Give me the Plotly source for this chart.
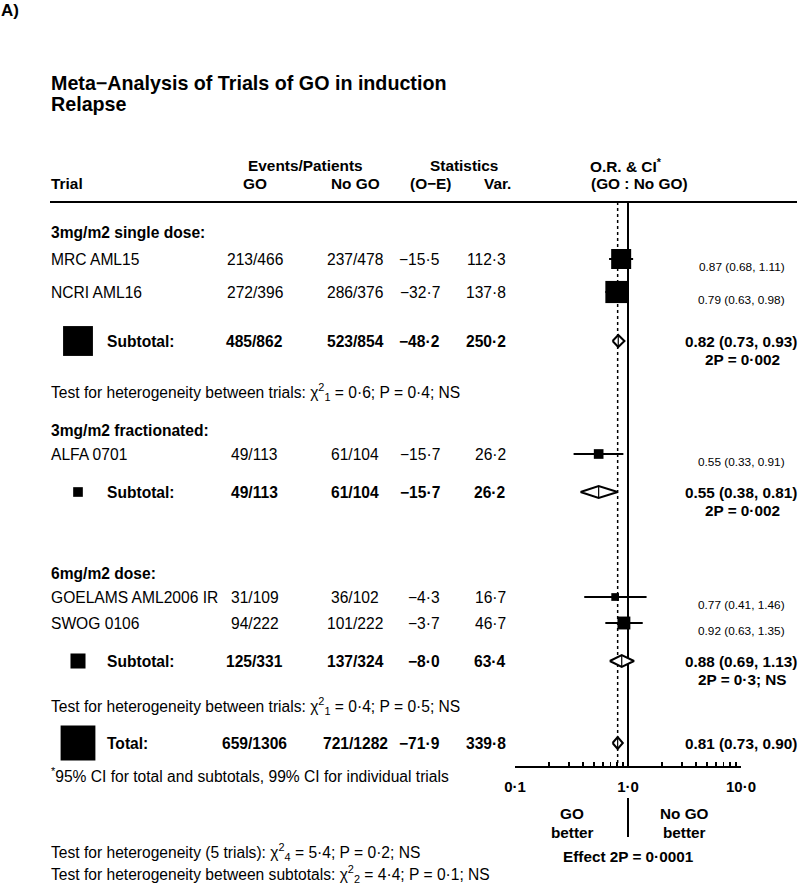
import math
import plotly.graph_objects as go

# ---------------- data ----------------
trials = ["MRC AML15", "NCRI AML16", "ALFA 0701", "GOELAMS AML2006 IR", "SWOG 0106"]
go_events = [213, 272, 49, 31, 94]
go_patients = [466, 396, 113, 109, 222]
nogo_events = [237, 286, 61, 36, 101]
nogo_patients = [478, 376, 104, 102, 222]
o_minus_e = [-15.5, -32.7, -15.7, -4.3, -3.7]
variance = [112.3, 137.8, 26.2, 16.7, 46.7]
odds_ratio = [0.87, 0.79, 0.55, 0.77, 0.92]
ci_low = [0.68, 0.63, 0.33, 0.41, 0.63]
ci_high = [1.11, 0.98, 0.91, 1.46, 1.35]

groups = ["3mg/m2 single dose:", "3mg/m2 fractionated:", "6mg/m2 dose:"]
sub_go_events = [485, 49, 125]
sub_go_patients = [862, 113, 331]
sub_nogo_events = [523, 61, 137]
sub_nogo_patients = [854, 104, 324]
sub_o_minus_e = [-48.2, -15.7, -8.0]
sub_variance = [250.2, 26.2, 63.4]
sub_or = [0.82, 0.55, 0.88]
sub_low = [0.73, 0.38, 0.69]
sub_high = [0.93, 0.81, 1.13]
sub_p = ["0·002", "0·002", "0·3; NS"]
heterogeneity = ["Test for heterogeneity between trials: χ<sup>2</sup><sub>1</sub> = 0·6; P = 0·4; NS",
                 None,
                 "Test for heterogeneity between trials: χ<sup>2</sup><sub>1</sub> = 0·4; P = 0·5; NS"]

tot_go = (659, 1306)
tot_nogo = (721, 1282)
tot_o_minus_e = -71.9
tot_variance = 339.8
tot_or, tot_low, tot_high = 0.81, 0.73, 0.90

tick_vals = [0.1, 1, 10]
tick_text = ["0·1", "1·0", "10·0"]
minor_vals = [k * 0.1 for k in range(2, 10)] + [k * 1.0 for k in range(2, 10)]

# ---------------- layout (screen pixels) ----------------
W, H = 800, 885
trial_y = [259, 292, 454, 597, 623]
group_y = [232, 430, 573]
sub_y = [341, 492, 661]
het_y = [392, None, 706]
total_y = 743
axis_y = 767
header_line_y = 202
AX_L, AX_R = 515, 741

X_NAME = 50
X_SUBLBL = 106
X_BOX = 78
X_GO = 255
X_NOGO = 355
X_OE = 441
X_VAR = 507
X_OR_SMALL = 786
X_OR_BOLD = 798
X_P = 742

FONT = "Liberation Sans, Arial, Helvetica, sans-serif"
FS = 15.6        # body text
FS_HEAD = 15.4   # header text
FS_OR = 15.3     # bold OR text
FS_SMALL = 11.8  # per-trial OR text
BOX_K = 20 / math.sqrt(112.3)  # px per sqrt(variance)
PX_PER_DECADE = (AX_R - AX_L) / 2.0


def px(x):
    return x / W


def fmt(v):
    s = f"{abs(v):.1f}".replace(".", "·")
    return ("−" if v < 0 else "") + s


fig = go.Figure()
ann = []


def text(x, y, s, size=FS, bold=False, anchor="left", color="black"):
    ann.append(dict(x=px(x), y=y, xref="paper", yref="y", text=(f"<b>{s}</b>" if bold else s),
                    showarrow=False, xanchor=anchor, yanchor="middle", borderpad=0,
                    font=dict(family=FONT, size=size, color=color)))


# titles
text(0, 10, "A)", size=17, bold=True)
text(50, 83, "Meta−Analysis of Trials of GO in induction", size=19.7, bold=True)
text(50, 104, "Relapse", size=19.7, bold=True)
# headers
text(305, 165, "Events/Patients", size=FS_HEAD, bold=True, anchor="center")
text(464, 165, "Statistics", size=FS_HEAD, bold=True, anchor="center")
text(626, 165, "O.R. & CI<sup>*</sup>", size=FS_HEAD, bold=True, anchor="center")
text(X_NAME, 183, "Trial", size=FS_HEAD, bold=True)
text(X_GO, 183, "GO", size=FS_HEAD, bold=True, anchor="center")
text(X_NOGO, 183, "No GO", size=FS_HEAD, bold=True, anchor="center")
text(430, 183, "(O−E)", size=FS_HEAD, bold=True, anchor="center")
text(497, 183, "Var.", size=FS_HEAD, bold=True, anchor="center")
text(639, 183, "(GO : No GO)", size=FS_HEAD, bold=True, anchor="center")

fig.add_shape(type="line", xref="paper", yref="y", x0=px(50), x1=px(797),
              y0=header_line_y, y1=header_line_y, line=dict(color="black", width=2))

# reference lines
fig.add_trace(go.Scatter(x=[1, 1], y=[header_line_y, axis_y], mode="lines",
                         line=dict(color="black", width=2), hoverinfo="skip"))
fig.add_trace(go.Scatter(x=[tot_or, tot_or], y=[header_line_y, axis_y], mode="lines",
                         line=dict(color="black", width=1.5, dash="dot"), hoverinfo="skip"))
fig.add_trace(go.Scatter(x=[1, 1], y=[798, 837], mode="lines",
                         line=dict(color="black", width=2), hoverinfo="skip"))

# group headers
for g, y in zip(groups, group_y):
    text(X_NAME, y, g, bold=True)

# trials
for i, name in enumerate(trials):
    y = trial_y[i]
    text(X_NAME, y, name)
    text(X_GO, y, f"{go_events[i]}/{go_patients[i]}", anchor="center")
    text(X_NOGO, y, f"{nogo_events[i]}/{nogo_patients[i]}", anchor="center")
    text(X_OE, y, fmt(o_minus_e[i]), anchor="right")
    text(X_VAR, y, fmt(variance[i]), anchor="right")
    text(X_OR_SMALL, y + 8, f"{odds_ratio[i]:.2f} ({ci_low[i]:.2f}, {ci_high[i]:.2f})",
         size=FS_SMALL, anchor="right")

    size = BOX_K * math.sqrt(variance[i])
    half_dec = (size / 2) / PX_PER_DECADE
    box_lo = odds_ratio[i] / 10 ** half_dec
    box_hi = odds_ratio[i] * 10 ** half_dec
    inside = ci_low[i] >= box_lo and ci_high[i] <= box_hi
    if not inside:
        fig.add_trace(go.Scatter(x=[ci_low[i], ci_high[i]], y=[y, y], mode="lines",
                                 line=dict(color="black", width=2), hoverinfo="skip"))
    fig.add_trace(go.Scatter(x=[odds_ratio[i]], y=[y], mode="markers",
                             marker=dict(symbol="square", size=size, color="black", line=dict(width=0)),
                             hoverinfo="skip"))
    if inside:
        fig.add_trace(go.Scatter(x=[ci_low[i], ci_high[i]], y=[y, y], mode="lines",
                                 line=dict(color="white", width=1.5), hoverinfo="skip"))


def diamond(est, lo, hi, y, h=6):
    fig.add_trace(go.Scatter(x=[lo, est, hi, est, lo], y=[y, y - h, y, y + h, y], mode="lines",
                             fill="toself", fillcolor="white",
                             line=dict(color="black", width=2), hoverinfo="skip"))
    fig.add_trace(go.Scatter(x=[est, est], y=[y - h, y + h], mode="lines",
                             line=dict(color="black", width=1.2), hoverinfo="skip"))


def legend_box(y, var):
    s = BOX_K * math.sqrt(var)
    fig.add_shape(type="rect", xref="paper", yref="y",
                  x0=px(X_BOX - s / 2), x1=px(X_BOX + s / 2),
                  y0=y - s / 2, y1=y + s / 2, fillcolor="black", line=dict(width=0))


# subtotals
for j in range(len(groups)):
    y = sub_y[j]
    legend_box(y, sub_variance[j])
    text(X_SUBLBL, y, "Subtotal:", bold=True)
    text(X_GO, y, f"{sub_go_events[j]}/{sub_go_patients[j]}", bold=True, anchor="center")
    text(X_NOGO, y, f"{sub_nogo_events[j]}/{sub_nogo_patients[j]}", bold=True, anchor="center")
    text(X_OE, y, fmt(sub_o_minus_e[j]), bold=True, anchor="right")
    text(X_VAR, y, fmt(sub_variance[j]), bold=True, anchor="right")
    text(X_OR_BOLD, y, f"{sub_or[j]:.2f} ({sub_low[j]:.2f}, {sub_high[j]:.2f})",
         size=FS_OR, bold=True, anchor="right")
    text(X_P, y + 18, f"2P = {sub_p[j]}", size=FS_OR, bold=True, anchor="center")
    diamond(sub_or[j], sub_low[j], sub_high[j], y)
    if heterogeneity[j]:
        text(X_NAME, het_y[j], heterogeneity[j])

# total
legend_box(total_y, tot_variance)
text(X_SUBLBL, total_y, "Total:", bold=True)
text(X_GO, total_y, f"{tot_go[0]}/{tot_go[1]}", bold=True, anchor="center")
text(X_NOGO, total_y, f"{tot_nogo[0]}/{tot_nogo[1]}", bold=True, anchor="center")
text(X_OE, total_y, fmt(tot_o_minus_e), bold=True, anchor="right")
text(X_VAR, total_y, fmt(tot_variance), bold=True, anchor="right")
text(X_OR_BOLD, total_y, f"{tot_or:.2f} ({tot_low:.2f}, {tot_high:.2f})",
     size=FS_OR, bold=True, anchor="right")
diamond(tot_or, tot_low, tot_high, total_y)

# footnotes
text(X_NAME, 775, "<sup>*</sup>95% CI for total and subtotals, 99% CI for individual trials")
text(X_NAME, 852, "Test for heterogeneity (5 trials): χ<sup>2</sup><sub>4</sub> = 5·4; P = 0·2; NS")
text(X_NAME, 874, "Test for heterogeneity between subtotals: χ<sup>2</sup><sub>2</sub> = 4·4; P = 0·1; NS")

# direction labels
text(572, 813, "GO", size=FS_OR, bold=True, anchor="center")
text(572, 832, "better", size=FS_OR, bold=True, anchor="center")
text(684, 813, "No GO", size=FS_OR, bold=True, anchor="center")
text(684, 832, "better", size=FS_OR, bold=True, anchor="center")
text(628, 856, "Effect 2P = 0·0001", size=FS_OR, bold=True, anchor="center")

fig.update_layout(
    width=W, height=H, margin=dict(l=0, r=0, t=0, b=0, autoexpand=False),
    paper_bgcolor="white", plot_bgcolor="white", showlegend=False,
    annotations=ann,
    xaxis=dict(type="log", range=[-1, 1], domain=[px(AX_L), px(AX_R)], anchor="free",
               position=(H - axis_y) / H, showgrid=False, zeroline=False,
               showline=True, linecolor="black", linewidth=2,
               tickmode="array", tickvals=tick_vals, ticktext=[f"<b>{t}</b>" for t in tick_text],
               ticks="inside", ticklen=10, tickwidth=2, tickcolor="black",
               ticklabelstandoff=6, automargin=False,
               tickfont=dict(family=FONT, size=15, color="black"),
               minor=dict(tickmode="array", tickvals=minor_vals, ticks="inside", ticklen=4,
                          tickwidth=1.5, tickcolor="black", showgrid=False)),
    yaxis=dict(range=[H, 0], domain=[0, 1], visible=False,
               showgrid=False, zeroline=False, automargin=False),
)

# page body without default margin so the 800x885 figure fills the window exactly
fig.write_html("out.html",
               config={"displayModeBar": False, "staticPlot": True},
               post_script="document.body.style.margin='0';document.body.style.overflow='hidden';")
